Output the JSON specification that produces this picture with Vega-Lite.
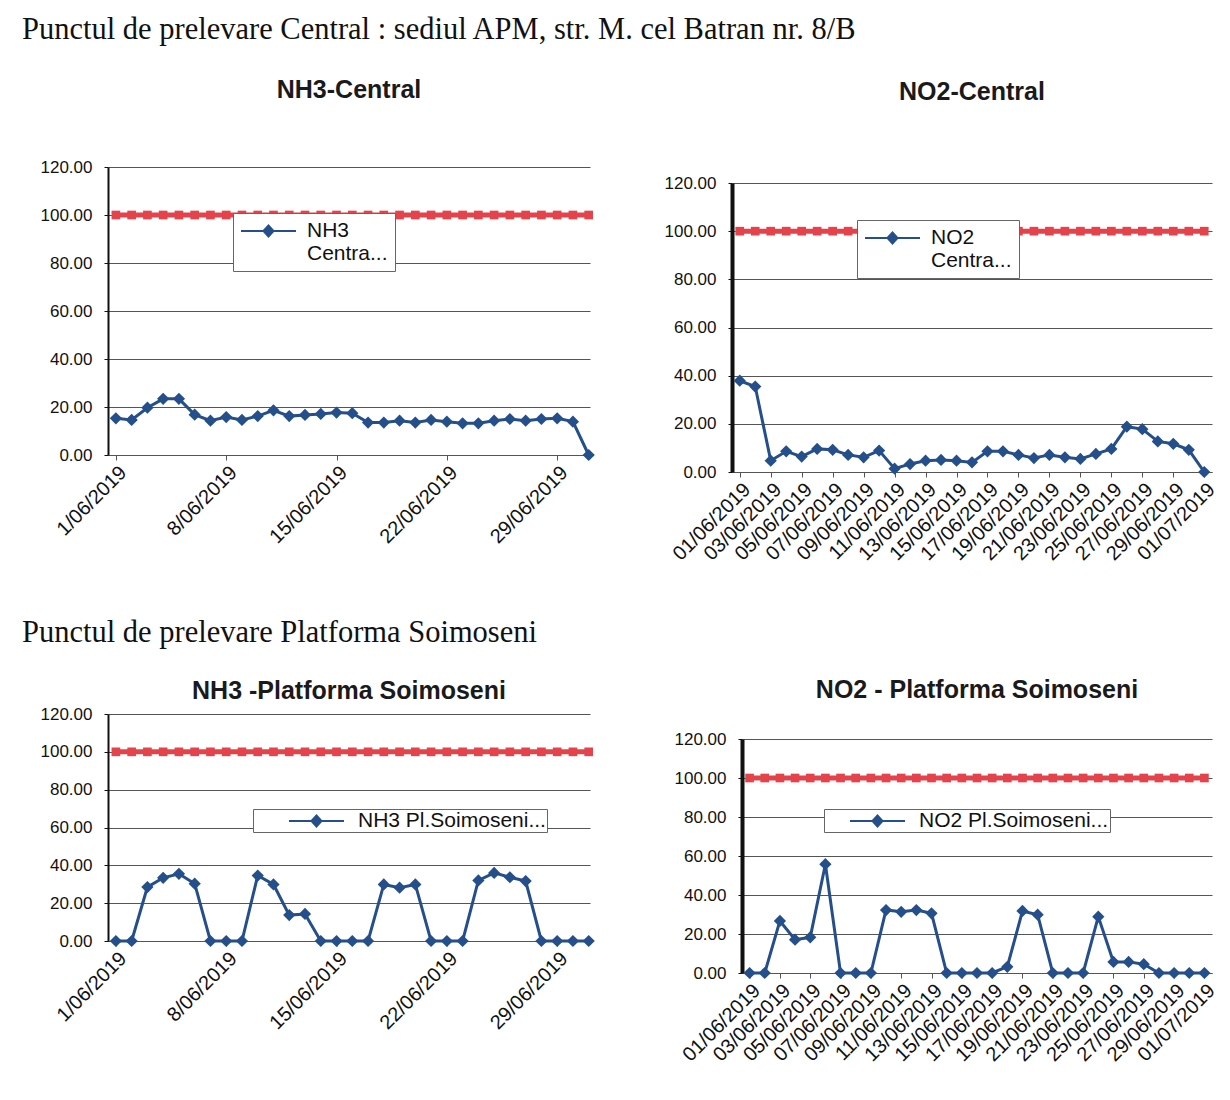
{
  "$schema": "https://vega.github.io/schema/vega-lite/v6.json",
  "background": "white",
  "padding": {"left": 22, "top": 14, "right": 5, "bottom": 5},
  "config": {
    "font": "Liberation Sans",
    "view": {"stroke": null},
    "axis": {"labelFont": "Liberation Sans", "labelColor": "#111", "title": null},
    "axisY": {"labelFontSize": 17, "labelPadding": 12, "gridColor": "#555", "gridOpacity": 1, "domainColor": "#111", "tickColor": "#111", "tickSize": 4},
    "axisX": {"labelFontSize": 20, "labelAngle": -45, "labelOverlap": false, "labelFlush": false, "grid": false, "domainColor": "#555", "tickColor": "#555", "tickSize": 5},
    "legend": {"labelFont": "Liberation Sans"}
  },
  "datasets": {
    "d": [
      {"date": "2019-06-01", "nh3c": 15.3, "no2c": 37.9, "nh3s": 0, "no2s": 0, "limit": 100},
      {"date": "2019-06-02", "nh3c": 14.6, "no2c": 35.5, "nh3s": 0, "no2s": 0, "limit": 100},
      {"date": "2019-06-03", "nh3c": 19.7, "no2c": 4.7, "nh3s": 28.5, "no2s": 26.7, "limit": 100},
      {"date": "2019-06-04", "nh3c": 23.4, "no2c": 8.6, "nh3s": 33.4, "no2s": 17.1, "limit": 100},
      {"date": "2019-06-05", "nh3c": 23.4, "no2c": 6.4, "nh3s": 35.5, "no2s": 18.3, "limit": 100},
      {"date": "2019-06-06", "nh3c": 16.8, "no2c": 9.6, "nh3s": 30.3, "no2s": 55.8, "limit": 100},
      {"date": "2019-06-07", "nh3c": 14.3, "no2c": 9.2, "nh3s": 0, "no2s": 0, "limit": 100},
      {"date": "2019-06-08", "nh3c": 15.8, "no2c": 7.1, "nh3s": 0, "no2s": 0, "limit": 100},
      {"date": "2019-06-09", "nh3c": 14.6, "no2c": 6.1, "nh3s": 0, "no2s": 0, "limit": 100},
      {"date": "2019-06-10", "nh3c": 16.2, "no2c": 8.9, "nh3s": 34.6, "no2s": 32.3, "limit": 100},
      {"date": "2019-06-11", "nh3c": 18.6, "no2c": 1.4, "nh3s": 29.9, "no2s": 31.4, "limit": 100},
      {"date": "2019-06-12", "nh3c": 16.2, "no2c": 3.3, "nh3s": 13.7, "no2s": 32.3, "limit": 100},
      {"date": "2019-06-13", "nh3c": 16.7, "no2c": 4.7, "nh3s": 14.3, "no2s": 30.6, "limit": 100},
      {"date": "2019-06-14", "nh3c": 17.1, "no2c": 5.0, "nh3s": 0, "no2s": 0, "limit": 100},
      {"date": "2019-06-15", "nh3c": 17.7, "no2c": 4.7, "nh3s": 0, "no2s": 0, "limit": 100},
      {"date": "2019-06-16", "nh3c": 17.4, "no2c": 4.0, "nh3s": 0, "no2s": 0, "limit": 100},
      {"date": "2019-06-17", "nh3c": 13.5, "no2c": 8.6, "nh3s": 0, "no2s": 0, "limit": 100},
      {"date": "2019-06-18", "nh3c": 13.5, "no2c": 8.6, "nh3s": 29.9, "no2s": 3.2, "limit": 100},
      {"date": "2019-06-19", "nh3c": 14.3, "no2c": 7.1, "nh3s": 28.2, "no2s": 31.8, "limit": 100},
      {"date": "2019-06-20", "nh3c": 13.5, "no2c": 5.8, "nh3s": 29.9, "no2s": 29.9, "limit": 100},
      {"date": "2019-06-21", "nh3c": 14.6, "no2c": 7.1, "nh3s": 0, "no2s": 0, "limit": 100},
      {"date": "2019-06-22", "nh3c": 13.9, "no2c": 6.1, "nh3s": 0, "no2s": 0, "limit": 100},
      {"date": "2019-06-23", "nh3c": 13.2, "no2c": 5.4, "nh3s": 0, "no2s": 0, "limit": 100},
      {"date": "2019-06-24", "nh3c": 13.2, "no2c": 7.5, "nh3s": 32.0, "no2s": 28.9, "limit": 100},
      {"date": "2019-06-25", "nh3c": 14.3, "no2c": 9.6, "nh3s": 36.0, "no2s": 5.7, "limit": 100},
      {"date": "2019-06-26", "nh3c": 15.0, "no2c": 18.8, "nh3s": 33.7, "no2s": 5.7, "limit": 100},
      {"date": "2019-06-27", "nh3c": 14.3, "no2c": 17.8, "nh3s": 31.7, "no2s": 4.5, "limit": 100},
      {"date": "2019-06-28", "nh3c": 15.0, "no2c": 12.7, "nh3s": 0, "no2s": 0, "limit": 100},
      {"date": "2019-06-29", "nh3c": 15.3, "no2c": 11.7, "nh3s": 0, "no2s": 0, "limit": 100},
      {"date": "2019-06-30", "nh3c": 13.9, "no2c": 9.2, "nh3s": 0, "no2s": 0, "limit": 100},
      {"date": "2019-07-01", "nh3c": 0, "no2c": 0, "nh3s": 0, "no2s": 0, "limit": 100}
    ]
  },
  "vconcat": [
    {
      "title": {"text": "Punctul de prelevare Central : sediul APM, str. M. cel Batran nr. 8/B", "anchor": "start", "font": "Liberation Serif", "fontSize": 30.5, "fontWeight": "normal", "color": "#111", "offset": 33, "dx": -18},
      "spacing": 65,
      "resolve": {"scale": {"color": "independent"}},
      "hconcat": [
        {
          "width": 482, "height": 288,
          "title": {"text": "NH3-Central", "fontSize": 25, "fontWeight": "bold", "color": "#1a1a1a", "offset": 55},
          "data": {"name": "d"},
          "encoding": {
            "x": {"field": "date", "type": "temporal",
              "scale": {"type": "utc", "domain": [{"year": 2019, "month": 5, "date": 31, "hours": 12, "utc": true}, {"year": 2019, "month": 7, "date": 1, "hours": 2, "utc": true}]},
              "axis": {"values": [{"year": 2019, "month": 6, "date": 1, "utc": true}, {"year": 2019, "month": 6, "date": 8, "utc": true}, {"year": 2019, "month": 6, "date": 15, "utc": true}, {"year": 2019, "month": 6, "date": 22, "utc": true}, {"year": 2019, "month": 6, "date": 29, "utc": true}],
                "labelExpr": "utcFormat(datum.value, '%-d/%m/%Y')"}}
          },
          "layer": [
            {"mark": {"type": "line", "color": "#e4434b", "strokeWidth": 5}, "encoding": {"y": {"field": "limit", "type": "quantitative", "scale": {"domain": [0, 120]}, "axis": {"values": [0, 20, 40, 60, 80, 100, 120], "format": ".2f", "domainWidth": 2}}}},
            {"mark": {"type": "point", "shape": "square", "filled": true, "color": "#e4434b", "size": 75, "opacity": 1}, "encoding": {"y": {"field": "limit", "type": "quantitative", "axis": {"values": [0, 20, 40, 60, 80, 100, 120], "format": ".2f", "domainWidth": 2}}}},
            {"mark": {"type": "line", "strokeWidth": 3}, "encoding": {"y": {"field": "nh3c", "type": "quantitative", "axis": {"values": [0, 20, 40, 60, 80, 100, 120], "format": ".2f", "domainWidth": 2}}, "color": {"datum": "NH3 Central", "scale": {"range": ["#254f8a"]}, "legend": {"orient": "none", "legendX": 125, "legendY": 46, "title": null, "fillColor": "white", "strokeColor": "#666", "padding": 7, "labelFontSize": 21, "labelColor": "#111", "labelExpr": "['NH3', 'Centra...']", "symbolType": "M-1,0L4.5,0M1.25,0L1.75,-0.55L2.25,0L1.75,0.55Z", "symbolSize": 400, "symbolStrokeWidth": 2, "symbolFillColor": "#254f8a", "symbolStrokeColor": "#254f8a", "labelOffset": 45}}}},
            {"mark": {"type": "point", "shape": "diamond", "filled": true, "size": 150, "opacity": 1}, "encoding": {"y": {"field": "nh3c", "type": "quantitative", "axis": {"values": [0, 20, 40, 60, 80, 100, 120], "format": ".2f", "domainWidth": 2}}, "color": {"datum": "NH3 Central"}}}
          ]
        },
        {
          "width": 480, "height": 305,
          "title": {"text": "NO2-Central", "fontSize": 25, "fontWeight": "bold", "color": "#1a1a1a", "offset": 62},
          "data": {"name": "d"},
          "encoding": {
            "x": {"field": "date", "type": "temporal",
              "scale": {"type": "utc", "domain": [{"year": 2019, "month": 5, "date": 31, "hours": 12, "utc": true}, {"year": 2019, "month": 7, "date": 1, "hours": 12, "utc": true}]},
              "axis": {"values": [{"year": 2019, "month": 6, "date": 1, "utc": true}, {"year": 2019, "month": 6, "date": 3, "utc": true}, {"year": 2019, "month": 6, "date": 5, "utc": true}, {"year": 2019, "month": 6, "date": 7, "utc": true}, {"year": 2019, "month": 6, "date": 9, "utc": true}, {"year": 2019, "month": 6, "date": 11, "utc": true}, {"year": 2019, "month": 6, "date": 13, "utc": true}, {"year": 2019, "month": 6, "date": 15, "utc": true}, {"year": 2019, "month": 6, "date": 17, "utc": true}, {"year": 2019, "month": 6, "date": 19, "utc": true}, {"year": 2019, "month": 6, "date": 21, "utc": true}, {"year": 2019, "month": 6, "date": 23, "utc": true}, {"year": 2019, "month": 6, "date": 25, "utc": true}, {"year": 2019, "month": 6, "date": 27, "utc": true}, {"year": 2019, "month": 6, "date": 29, "utc": true}, {"year": 2019, "month": 7, "date": 1, "utc": true}],
                "labelExpr": "utcFormat(datum.value, '%d/%m/%Y')"}}
          },
          "layer": [
            {"mark": {"type": "line", "color": "#e4434b", "strokeWidth": 5}, "encoding": {"y": {"field": "limit", "type": "quantitative", "scale": {"domain": [0, 120], "range": [305, 16]}, "axis": {"values": [0, 20, 40, 60, 80, 100, 120], "format": ".2f", "domainWidth": 4}}}},
            {"mark": {"type": "point", "shape": "square", "filled": true, "color": "#e4434b", "size": 75, "opacity": 1}, "encoding": {"y": {"field": "limit", "type": "quantitative", "axis": {"values": [0, 20, 40, 60, 80, 100, 120], "format": ".2f", "domainWidth": 4}}}},
            {"mark": {"type": "line", "strokeWidth": 3}, "encoding": {"y": {"field": "no2c", "type": "quantitative", "axis": {"values": [0, 20, 40, 60, 80, 100, 120], "format": ".2f", "domainWidth": 4}}, "color": {"datum": "NO2 Central", "scale": {"range": ["#254f8a"]}, "legend": {"orient": "none", "legendX": 125, "legendY": 53, "title": null, "fillColor": "white", "strokeColor": "#666", "padding": 7, "labelFontSize": 21, "labelColor": "#111", "labelExpr": "['NO2', 'Centra...']", "symbolType": "M-1,0L4.5,0M1.25,0L1.75,-0.55L2.25,0L1.75,0.55Z", "symbolSize": 400, "symbolStrokeWidth": 2, "symbolFillColor": "#254f8a", "symbolStrokeColor": "#254f8a", "labelOffset": 45}}}},
            {"mark": {"type": "point", "shape": "diamond", "filled": true, "size": 150, "opacity": 1}, "encoding": {"y": {"field": "no2c", "type": "quantitative", "axis": {"values": [0, 20, 40, 60, 80, 100, 120], "format": ".2f", "domainWidth": 4}}, "color": {"datum": "NO2 Central"}}}
          ]
        }
      ]
    },
    {
      "title": {"text": "Punctul de prelevare Platforma Soimoseni", "anchor": "start", "font": "Liberation Serif", "fontSize": 30.5, "fontWeight": "normal", "color": "#111", "offset": 30, "dx": -18},
      "spacing": 75,
      "resolve": {"scale": {"color": "independent"}},
      "hconcat": [
        {
          "width": 482, "height": 227,
          "title": {"text": "NH3 -Platforma Soimoseni", "fontSize": 25, "fontWeight": "bold", "color": "#1a1a1a", "offset": 1},
          "data": {"name": "d"},
          "encoding": {
            "x": {"field": "date", "type": "temporal",
              "scale": {"type": "utc", "domain": [{"year": 2019, "month": 5, "date": 31, "hours": 12, "utc": true}, {"year": 2019, "month": 7, "date": 1, "hours": 2, "utc": true}]},
              "axis": {"values": [{"year": 2019, "month": 6, "date": 1, "utc": true}, {"year": 2019, "month": 6, "date": 8, "utc": true}, {"year": 2019, "month": 6, "date": 15, "utc": true}, {"year": 2019, "month": 6, "date": 22, "utc": true}, {"year": 2019, "month": 6, "date": 29, "utc": true}],
                "labelExpr": "utcFormat(datum.value, '%-d/%m/%Y')"}}
          },
          "layer": [
            {"mark": {"type": "line", "color": "#e4434b", "strokeWidth": 5}, "encoding": {"y": {"field": "limit", "type": "quantitative", "scale": {"domain": [0, 120]}, "axis": {"values": [0, 20, 40, 60, 80, 100, 120], "format": ".2f", "domainWidth": 2}}}},
            {"mark": {"type": "point", "shape": "square", "filled": true, "color": "#e4434b", "size": 75, "opacity": 1}, "encoding": {"y": {"field": "limit", "type": "quantitative", "axis": {"values": [0, 20, 40, 60, 80, 100, 120], "format": ".2f", "domainWidth": 2}}}},
            {"mark": {"type": "line", "strokeWidth": 3}, "encoding": {"y": {"field": "nh3s", "type": "quantitative", "axis": {"values": [0, 20, 40, 60, 80, 100, 120], "format": ".2f", "domainWidth": 2}}, "color": {"datum": "NH3 Pl.Soimoseni", "scale": {"range": ["#254f8a"]}, "legend": {"orient": "none", "legendX": 145, "legendY": 95, "title": null, "fillColor": "white", "strokeColor": "#666", "padding": 1, "labelFontSize": 21, "labelColor": "#111", "labelExpr": "datum.label + '...'", "symbolType": "M-1,0L4.5,0M1.25,0L1.75,-0.55L2.25,0L1.75,0.55Z", "symbolSize": 400, "symbolStrokeWidth": 2, "symbolFillColor": "#254f8a", "symbolStrokeColor": "#254f8a", "symbolOffset": 34, "labelOffset": 48, "labelLimit": 300}}}},
            {"mark": {"type": "point", "shape": "diamond", "filled": true, "size": 150, "opacity": 1}, "encoding": {"y": {"field": "nh3s", "type": "quantitative", "axis": {"values": [0, 20, 40, 60, 80, 100, 120], "format": ".2f", "domainWidth": 2}}, "color": {"datum": "NH3 Pl.Soimoseni"}}}
          ]
        },
        {
          "width": 470, "height": 259,
          "title": {"text": "NO2 - Platforma Soimoseni", "fontSize": 25, "fontWeight": "bold", "color": "#1a1a1a", "offset": 11},
          "data": {"name": "d"},
          "encoding": {
            "x": {"field": "date", "type": "temporal",
              "scale": {"type": "utc", "domain": [{"year": 2019, "month": 5, "date": 31, "hours": 12, "utc": true}, {"year": 2019, "month": 7, "date": 1, "hours": 12, "utc": true}]},
              "axis": {"values": [{"year": 2019, "month": 6, "date": 1, "utc": true}, {"year": 2019, "month": 6, "date": 3, "utc": true}, {"year": 2019, "month": 6, "date": 5, "utc": true}, {"year": 2019, "month": 6, "date": 7, "utc": true}, {"year": 2019, "month": 6, "date": 9, "utc": true}, {"year": 2019, "month": 6, "date": 11, "utc": true}, {"year": 2019, "month": 6, "date": 13, "utc": true}, {"year": 2019, "month": 6, "date": 15, "utc": true}, {"year": 2019, "month": 6, "date": 17, "utc": true}, {"year": 2019, "month": 6, "date": 19, "utc": true}, {"year": 2019, "month": 6, "date": 21, "utc": true}, {"year": 2019, "month": 6, "date": 23, "utc": true}, {"year": 2019, "month": 6, "date": 25, "utc": true}, {"year": 2019, "month": 6, "date": 27, "utc": true}, {"year": 2019, "month": 6, "date": 29, "utc": true}, {"year": 2019, "month": 7, "date": 1, "utc": true}],
                "labelExpr": "utcFormat(datum.value, '%d/%m/%Y')"}}
          },
          "layer": [
            {"mark": {"type": "line", "color": "#e4434b", "strokeWidth": 5}, "encoding": {"y": {"field": "limit", "type": "quantitative", "scale": {"domain": [0, 120], "range": [259, 25]}, "axis": {"values": [0, 20, 40, 60, 80, 100, 120], "format": ".2f", "domainWidth": 4}}}},
            {"mark": {"type": "point", "shape": "square", "filled": true, "color": "#e4434b", "size": 75, "opacity": 1}, "encoding": {"y": {"field": "limit", "type": "quantitative", "axis": {"values": [0, 20, 40, 60, 80, 100, 120], "format": ".2f", "domainWidth": 4}}}},
            {"mark": {"type": "line", "strokeWidth": 3}, "encoding": {"y": {"field": "no2s", "type": "quantitative", "axis": {"values": [0, 20, 40, 60, 80, 100, 120], "format": ".2f", "domainWidth": 4}}, "color": {"datum": "NO2 Pl.Soimoseni", "scale": {"range": ["#254f8a"]}, "legend": {"orient": "none", "legendX": 82, "legendY": 95, "title": null, "fillColor": "white", "strokeColor": "#666", "padding": 1, "labelFontSize": 21, "labelColor": "#111", "labelExpr": "datum.label + '...'", "symbolType": "M-1,0L4.5,0M1.25,0L1.75,-0.55L2.25,0L1.75,0.55Z", "symbolSize": 400, "symbolStrokeWidth": 2, "symbolFillColor": "#254f8a", "symbolStrokeColor": "#254f8a", "symbolOffset": 24, "labelOffset": 48, "labelLimit": 300}}}},
            {"mark": {"type": "point", "shape": "diamond", "filled": true, "size": 150, "opacity": 1}, "encoding": {"y": {"field": "no2s", "type": "quantitative", "axis": {"values": [0, 20, 40, 60, 80, 100, 120], "format": ".2f", "domainWidth": 4}}, "color": {"datum": "NO2 Pl.Soimoseni"}}}
          ]
        }
      ]
    }
  ],
  "spacing": 53
}
